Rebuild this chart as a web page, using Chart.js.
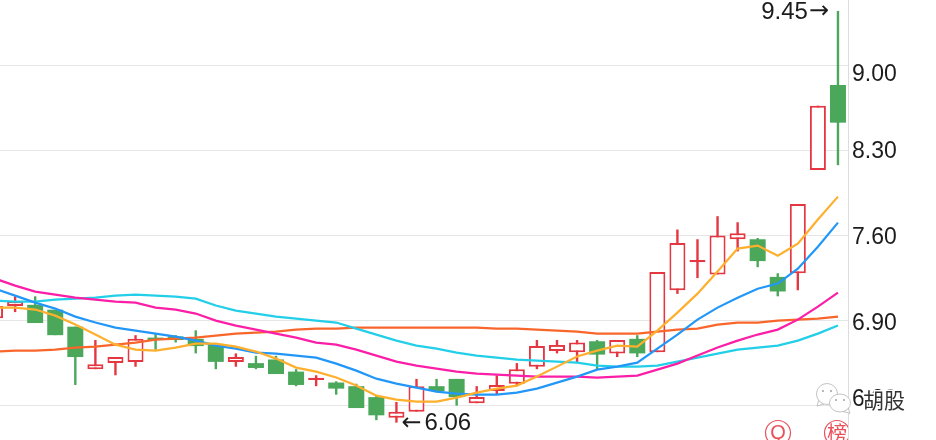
<!DOCTYPE html>
<html>
<head>
<meta charset="UTF-8">
<title>K-line</title>
<script src="https://cdn.jsdelivr.net/npm/chart.js"></script>
<style>
    html, body { margin: 0; padding: 0; background: #fff; overflow: hidden; width: 936px; height: 440px; }
    #kline { position: absolute; left: -15px; top: 0; }
</style>
</head>
<body>
<canvas id="kline" width="951" height="440"></canvas>
<script>
// candles, first one is cut off by the left edge of the page
var opens  = [6.92,7.02,7.03,6.99,6.85,6.50,6.55,6.56,6.76,6.77,6.75,6.70,6.56,6.55,6.58,6.48,6.41,6.39,6.36,6.27,6.10,6.15,6.36,6.42,6.22,6.32,6.38,6.52,6.65,6.64,6.73,6.63,6.75,6.64,7.15,7.38,7.28,7.57,7.57,7.26,7.29,8.14,8.84];
var closes = [7.02,7.06,6.88,6.78,6.60,6.54,6.60,6.75,6.74,6.74,6.69,6.56,6.60,6.51,6.46,6.37,6.43,6.34,6.18,6.12,6.15,6.36,6.32,6.27,6.27,6.37,6.50,6.69,6.70,6.72,6.62,6.74,6.63,7.30,7.54,7.40,7.60,7.62,7.39,7.14,7.86,8.67,8.53];
var highs  = [7.02,7.10,7.10,6.99,6.85,6.74,6.60,6.78,6.79,6.78,6.82,6.70,6.63,6.61,6.61,6.50,6.45,6.40,6.38,6.28,6.23,6.42,6.42,6.42,6.36,6.45,6.55,6.74,6.74,6.74,6.74,6.74,6.78,7.30,7.65,7.57,7.76,7.71,7.58,7.29,7.86,8.67,9.45];
var lows   = [6.92,6.97,6.88,6.78,6.37,6.50,6.45,6.52,6.66,6.72,6.63,6.50,6.52,6.50,6.46,6.36,6.36,6.29,6.18,6.08,6.06,6.15,6.31,6.20,6.22,6.29,6.36,6.50,6.63,6.55,6.50,6.60,6.60,6.64,7.12,7.25,7.28,7.47,7.34,7.10,7.15,8.14,8.18];

// moving averages
var ma5  = [7.007,7.007,6.991,6.941,6.867,6.785,6.702,6.661,6.653,6.678,6.711,6.711,6.686,6.645,6.587,6.513,6.480,6.431,6.365,6.282,6.249,6.233,6.233,6.266,6.307,6.340,6.365,6.439,6.521,6.604,6.653,6.694,6.686,6.818,6.966,7.122,7.304,7.493,7.518,7.435,7.534,7.732,7.921];
var ma10 = [7.163,7.106,7.048,6.999,6.933,6.884,6.842,6.818,6.793,6.768,6.735,6.694,6.669,6.636,6.628,6.612,6.595,6.546,6.488,6.422,6.381,6.348,6.315,6.299,6.291,6.291,6.307,6.340,6.389,6.439,6.496,6.521,6.554,6.669,6.785,6.908,7.007,7.089,7.163,7.205,7.328,7.509,7.707];
var ma20 = [7.246,7.188,7.139,7.114,7.089,7.073,7.056,7.048,7.007,6.991,6.958,6.900,6.859,6.826,6.793,6.760,6.719,6.702,6.661,6.612,6.562,6.529,6.505,6.480,6.464,6.455,6.447,6.439,6.439,6.439,6.431,6.439,6.447,6.496,6.546,6.612,6.678,6.735,6.785,6.826,6.908,7.015,7.131];
var ma30 = [7.065,7.056,7.056,7.073,7.081,7.089,7.106,7.114,7.106,7.098,7.081,7.024,6.982,6.958,6.933,6.916,6.900,6.884,6.834,6.785,6.735,6.694,6.669,6.636,6.612,6.595,6.579,6.571,6.562,6.554,6.529,6.521,6.521,6.529,6.562,6.595,6.628,6.661,6.678,6.694,6.735,6.793,6.859];
var ma60 = [6.645,6.653,6.653,6.661,6.678,6.686,6.702,6.719,6.744,6.752,6.760,6.776,6.793,6.801,6.809,6.826,6.834,6.834,6.842,6.842,6.842,6.842,6.842,6.842,6.842,6.834,6.834,6.826,6.818,6.809,6.793,6.793,6.793,6.809,6.826,6.834,6.867,6.884,6.884,6.900,6.908,6.916,6.933];

var tickValues = [9.00, 8.30, 7.60, 6.90, 6.20];
var categories = opens.map(function (v, i) { return String(i + 1); });

var RED = '#e53742';
var GREEN = '#4ba75a';
var INK = '#1c1c1c';
var LATIN = '"Liberation Sans", Arial, sans-serif';
var ARROW = '"DejaVu Sans", sans-serif';
var CJK = '"Noto Sans CJK SC", sans-serif';

var upOrDown = opens.map(function (o, i) { return closes[i] >= o ? RED : GREEN; });

// the labels sit a little off their grid lines in the reference
var tickNudge = [9, 1, 2, 3, -6];

var overlayPlugin = {
    id: 'overlay',
    afterDraw: function (chart) {
        var c = chart.ctx;
        var xs = chart.scales.x;
        var ys = chart.scales.y;

        c.save();
        c.textBaseline = 'middle';
        c.fillStyle = INK;

        // axis labels
        c.font = '23px ' + LATIN;
        c.textAlign = 'left';
        tickValues.forEach(function (v, i) {
            c.fillText(v.toFixed(2), ys.left + 4, ys.getPixelForValue(v) + tickNudge[i]);
        });

        // highest / lowest price marks
        var hi = Math.max.apply(null, highs);
        var lo = Math.min.apply(null, lows);
        var hiX = xs.getPixelForValue(highs.indexOf(hi));
        var hiY = ys.getPixelForValue(hi) + 1;
        var loX = xs.getPixelForValue(lows.indexOf(lo));
        var loY = ys.getPixelForValue(lo) + 1;
        c.font = '24px ' + LATIN;
        c.textAlign = 'right';
        c.fillText(hi.toFixed(2), hiX - 30, hiY);
        c.textAlign = 'left';
        c.fillText(lo.toFixed(2), loX + 28, loY);
        c.font = '24px ' + ARROW;
        c.fillText('→', hiX - 29, hiY);
        c.fillText('←', loX + 5, loY);

        // wechat watermark
        drawBubble(c, 842, 394, 10.5, 10.5, -1);
        drawBubble(c, 855, 403, 10.5, 9, 1);
        c.font = '21px ' + CJK;
        c.textAlign = 'left';
        c.lineWidth = 3;
        c.strokeStyle = '#fff';
        c.strokeText('胡股', 878, 400);
        c.fillStyle = '#333';
        c.fillText('胡股', 878, 400);

        // round red badges, the right one is cut by the axis line
        c.strokeStyle = '#e9505a';
        c.fillStyle = '#e9505a';
        c.lineWidth = 1.2;
        c.beginPath();
        c.arc(793, 433, 12.5, 0, Math.PI * 2);
        c.stroke();
        c.font = '20px ' + LATIN;
        c.textAlign = 'center';
        c.fillText('Q', 793, 433);
        c.save();
        c.beginPath();
        c.rect(830, 410, 33, 30);
        c.clip();
        c.beginPath();
        c.arc(852, 433, 12.5, 0, Math.PI * 2);
        c.stroke();
        c.font = '20px ' + CJK;
        c.fillText('榜', 852, 433);
        c.restore();

        c.restore();
    }
};

function drawBubble(c, x, y, rx, ry, side) {
    c.save();
    c.fillStyle = '#fff';
    c.strokeStyle = '#b5b5b5';
    c.lineWidth = 0.8;
    c.beginPath();
    c.moveTo(x + side * rx * 0.3, y + ry * 0.95);
    c.lineTo(x + side * rx * 0.95, y + ry * 1.15);
    c.lineTo(x + side * rx * 0.8, y + ry * 0.6);
    c.closePath();
    c.fill();
    c.stroke();
    c.beginPath();
    c.ellipse(x, y, rx, ry, 0, 0, Math.PI * 2);
    c.fill();
    c.stroke();
    c.fillStyle = '#a0a0a0';
    c.beginPath();
    c.arc(x - 4, y - 3, 1, 0, Math.PI * 2);
    c.arc(x + 4, y - 3, 1, 0, Math.PI * 2);
    c.fill();
    c.restore();
}

var ctxKline = document.getElementById('kline').getContext('2d');
var lineStyle = { type: 'line', pointRadius: 0, borderWidth: 2.2, tension: 0, fill: false };

var klineChart = new Chart(ctxKline, {
    data: {
        labels: categories,
        datasets: [
            Object.assign({ data: ma60, borderColor: '#f9662b', order: 5 }, lineStyle),
            Object.assign({ data: ma30, borderColor: '#23cfe8', order: 4 }, lineStyle),
            Object.assign({ data: ma20, borderColor: '#fb1fa8', order: 3 }, lineStyle),
            Object.assign({ data: ma10, borderColor: '#2297f8', order: 2 }, lineStyle),
            Object.assign({ data: ma5, borderColor: '#fdaf2d', order: 1 }, lineStyle),
            {
                type: 'bar',
                data: opens.map(function (o, i) { return [o, closes[i]]; }),
                backgroundColor: upOrDown.map(function (col) { return col === RED ? '#fff' : GREEN; }),
                borderColor: upOrDown,
                borderWidth: upOrDown.map(function (col) { return col === RED ? 2 : 0; }),
                borderSkipped: false,
                inflateAmount: 0,
                barThickness: 16,
                grouped: false,
                order: 6
            },
            {
                type: 'bar',
                data: lows.map(function (l, i) { return [l, highs[i]]; }),
                backgroundColor: upOrDown,
                borderWidth: 0,
                inflateAmount: 0,
                barThickness: 2.4,
                grouped: false,
                order: 7
            }
        ]
    },
    options: {
        responsive: false,
        animation: false,
        layout: { padding: 0 },
        plugins: { legend: { display: false }, tooltip: { enabled: false } },
        scales: {
            x: { type: 'category', offset: true, display: false },
            y: {
                position: 'right',
                min: 5.9168,
                max: 9.5402,
                afterBuildTicks: function (axis) {
                    axis.ticks = tickValues.map(function (v) { return { value: v }; });
                },
                afterFit: function (axis) { axis.width = 88; },
                ticks: { display: false },
                grid: { color: '#e6e6e6', lineWidth: 1, drawTicks: false },
                border: { color: '#dcdcdc' }
            }
        }
    },
    plugins: [overlayPlugin]
});
</script>
</body>
</html>
